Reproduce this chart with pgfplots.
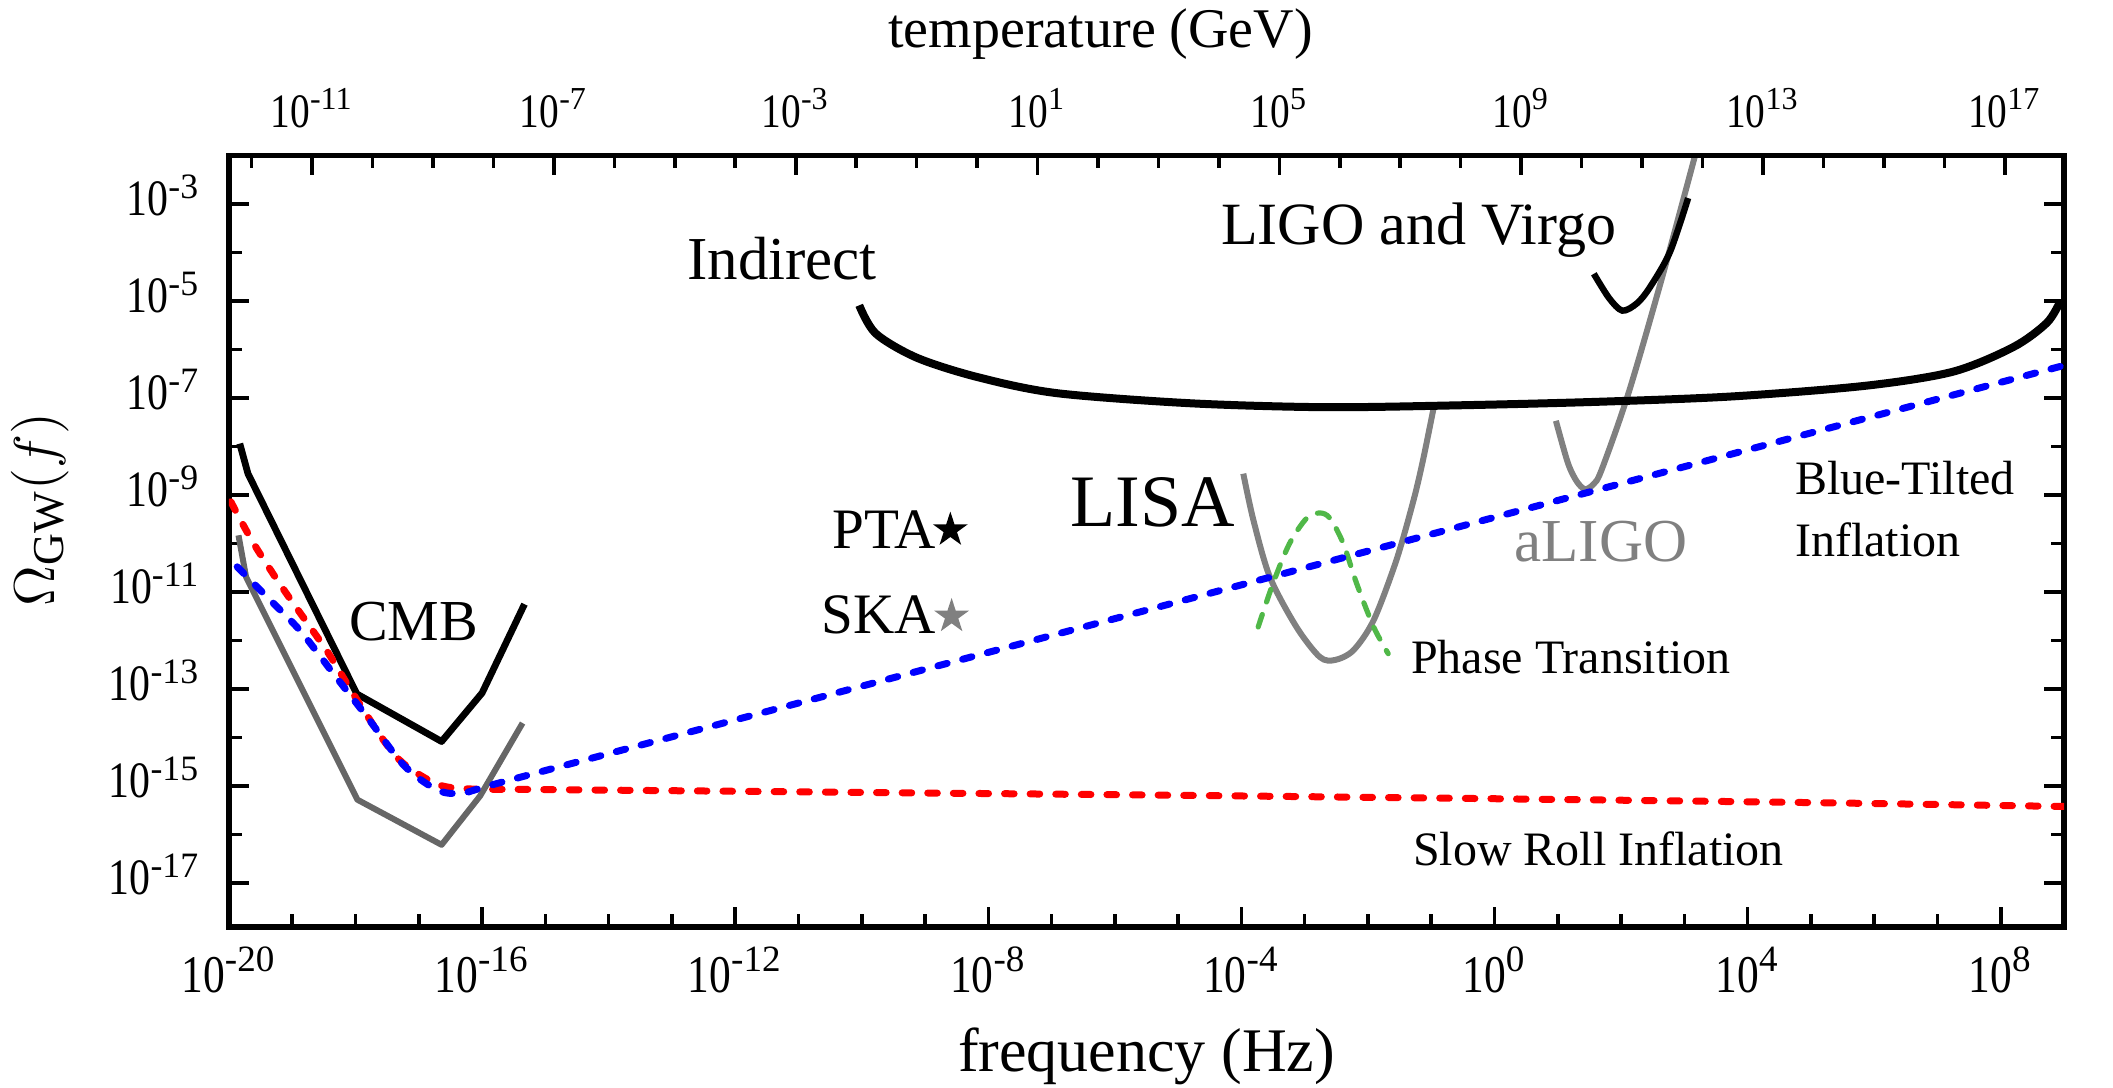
\documentclass[border=0pt]{standalone}
\usepackage{fontspec}
\setmainfont{Liberation Serif}
\newfontfamily\tickfont{Liberation Serif}[FakeStretch=0.82]
\usepackage{pgfplots}
\pgfplotsset{compat=1.18}

\definecolor{pgreen}{RGB}{80,184,72}
\definecolor{lgray}{RGB}{128,128,128}
\definecolor{dgray}{RGB}{102,102,102}

% filled five-pointed star
\pgfdeclareplotmark{fstar}{%
  \pgfpathmoveto{\pgfpointpolar{90}{\pgfplotmarksize}}%
  \pgfpathlineto{\pgfpointpolar{126}{0.382\pgfplotmarksize}}%
  \pgfpathlineto{\pgfpointpolar{162}{\pgfplotmarksize}}%
  \pgfpathlineto{\pgfpointpolar{198}{0.382\pgfplotmarksize}}%
  \pgfpathlineto{\pgfpointpolar{234}{\pgfplotmarksize}}%
  \pgfpathlineto{\pgfpointpolar{270}{0.382\pgfplotmarksize}}%
  \pgfpathlineto{\pgfpointpolar{306}{\pgfplotmarksize}}%
  \pgfpathlineto{\pgfpointpolar{342}{0.382\pgfplotmarksize}}%
  \pgfpathlineto{\pgfpointpolar{18}{\pgfplotmarksize}}%
  \pgfpathlineto{\pgfpointpolar{54}{0.382\pgfplotmarksize}}%
  \pgfpathclose
  \pgfusepathqfill}

\tikzset{lab/.style={inner sep=0pt, font=\fontsize{#1}{#1}\selectfont}}
% condensed "10", normal-width exponent
\newcommand{\tp}[1]{10\textsuperscript{\rmfamily #1}}

\begin{document}
\begin{tikzpicture}
% x and y are log10 of frequency (Hz) and of Omega_GW
\begin{axis}[
    name=main,
    scale only axis, width=458.75pt, height=192.85pt,
    xmin=-20, xmax=9, ymin=-17.9, ymax=-2,
    axis line style={line width=1.4pt},
    every tick/.style={black, line width=0.9pt},
    tick align=inside,
    major tick length=5pt, minor tick length=3.2pt,
    xtick={-20,-16,...,8},
    minor xtick={-19,-18,...,8},
    xticklabels={\tp{-20},\tp{-16},\tp{-12},\tp{-8},\tp{-4},\tp{0},\tp{4},\tp{8}},
    ytick={-17,-15,...,-3},
    minor ytick={-16,-14,...,-2},
    yticklabels={\tp{-17},\tp{-15},\tp{-13},\tp{-11},\tp{-9},\tp{-7},\tp{-5},\tp{-3}},
    xtick pos=left, ytick pos=both, yticklabel pos=left,
    xticklabel style={font={\tickfont\fontsize{13.25}{16}\selectfont}, inner sep=0pt, anchor=north, yshift=-4.9pt},
    yticklabel style={font={\tickfont\fontsize{12.75}{15}\selectfont}, inner sep=0pt, anchor=base east, xshift=-7pt, yshift=-2.9pt},
    xlabel={frequency (Hz)},
    xlabel style={font=\fontsize{15.5}{18}\selectfont, inner sep=0pt, at={(axis description cs:0.5,-0.1882)}, anchor=base},
    ylabel={$\Omega_{\mathrm{GW}}(f)$},
    ylabel style={font=\fontsize{15.75}{18}\selectfont, inner sep=0pt, at={(axis description cs:-0.103,0.541)}, anchor=center},
]
% LISA
\addplot[lgray, line width=1.5pt, smooth] coordinates {
    (-3.97,-8.56) (-3.81,-9.52) (-3.55,-10.69) (-3.13,-11.72) (-2.76,-12.34)
    (-2.52,-12.40) (-2.23,-12.20) (-1.91,-11.58) (-1.55,-10.34) (-1.28,-9.11)
    (-1.13,-8.28) (-0.96,-7.19)
};
% aLIGO
\addplot[lgray, line width=1.5pt, smooth] coordinates {
    (0.97,-7.47) (1.16,-8.34) (1.30,-8.72) (1.43,-8.88) (1.56,-8.78)
    (1.69,-8.49) (2.12,-6.89) (2.65,-4.51) (3.17,-2.0)
};
% LIGO and Virgo
\addplot[black, line width=1.6pt, smooth] coordinates {
    (1.57,-4.44) (1.81,-4.94) (2.02,-5.20) (2.25,-5.05) (2.45,-4.73)
    (2.77,-4.00) (3.06,-2.88)
};
% Indirect
\addplot[black, line width=2pt, smooth] coordinates {
    (-10.04,-5.09) (-9.78,-5.67) (-9.13,-6.17) (-8.17,-6.57) (-6.92,-6.90)
    (-4.79,-7.11) (-2.66,-7.19) (-0.53,-7.15) (1.60,-7.08) (3.73,-6.97)
    (5.85,-6.75) (7.24,-6.46) (8.20,-5.95) (8.73,-5.45) (8.94,-5.01)
};
% CMB, current and future
\addplot[black, line width=1.7pt, line join=round] coordinates {
    (-19.83,-7.94) (-19.70,-8.56) (-17.98,-13.10) (-16.64,-14.08)
    (-16.00,-13.08) (-15.33,-11.25)
};
\addplot[dgray, line width=1.5pt, line join=round] coordinates {
    (-19.85,-9.83) (-19.73,-10.69) (-17.97,-15.28) (-16.64,-16.21)
    (-16.03,-15.20) (-15.36,-13.70)
};
% phase transition
\addplot[pgreen, line width=1.3pt, line cap=round, dash pattern=on 3.3pt off 3.3pt, smooth] coordinates {
    (-3.735,-11.72) (-3.50,-10.82) (-3.24,-10.00) (-2.97,-9.48) (-2.76,-9.37)
    (-2.60,-9.48) (-2.39,-10.00) (-2.18,-10.82) (-1.91,-11.72) (-1.68,-12.27)
};
% slow roll inflation
\addplot[red, line width=1.75pt, line cap=round, dash pattern=on 2.4pt off 4pt, smooth] coordinates {
    (-19.97,-9.14) (-19.61,-10.00) (-19.13,-10.96) (-18.46,-12.20) (-18.04,-13.09)
    (-17.56,-14.05) (-17.23,-14.55) (-16.69,-14.97) (-16.16,-15.06) (-15.10,-15.07)
    (-10,-15.13) (-5,-15.19) (0,-15.26) (5,-15.34) (9,-15.42)
};
% blue-tilted inflation
\addplot[blue, line width=1.75pt, line cap=round, dash pattern=on 2.4pt off 4pt, smooth] coordinates {
    (-19.87,-10.48) (-19.40,-11.10) (-18.88,-11.79) (-18.35,-12.68) (-17.82,-13.57)
    (-17.23,-14.58) (-16.69,-15.09) (-16.27,-15.13) (-15.52,-14.86)
    (-10,-12.94) (0,-9.46) (8.94,-6.35)
};
% PTA and SKA
\addplot[only marks, mark=fstar, mark size=4.6pt, black] coordinates {(-8.60,-9.72)};
\addplot[only marks, mark=fstar, mark size=4.6pt, lgray] coordinates {(-8.58,-11.50)};

\node[lab=15.25, anchor=base] at (axis cs:-11.26,-4.55) {Indirect};
\node[lab=15, anchor=base] at (axis cs:-1.195,-3.83) {LIGO and Virgo};
\node[lab=18.5, anchor=base] at (axis cs:-5.40,-9.64) {LISA};
\node[lab=15.25, anchor=base, text=lgray] at (axis cs:1.68,-10.38) {aLIGO};
\node[lab=12, anchor=base west] at (axis cs:4.74,-8.99) {Blue-Tilted};
\node[lab=12, anchor=base west] at (axis cs:4.74,-10.26) {Inflation};
\node[lab=12, anchor=base west] at (axis cs:-1.33,-12.67) {Phase Transition};
\node[lab=12, anchor=base west] at (axis cs:-1.30,-16.63) {Slow Roll Inflation};
\node[lab=14.5, anchor=base] at (axis cs:-17.08,-11.99) {CMB};
\node[lab=14.3, anchor=base east] at (axis cs:-8.81,-10.11) {PTA};
\node[lab=14.3, anchor=base east] at (axis cs:-8.81,-11.85) {SKA};
\end{axis}

% temperature scale along the top
\begin{axis}[
    scale only axis, width=458.75pt, height=192.85pt,
    xmin=-12.375, xmax=17.98, ymin=0, ymax=1,
    axis x line*=top, hide y axis,
    axis line style={line width=1.4pt},
    every tick/.style={black, line width=0.9pt},
    tick align=inside,
    major tick length=5pt, minor tick length=3.2pt,
    xtick pos=right, xticklabel pos=right,
    xtick={-11,-7,...,17},
    minor xtick={-12,-11,...,17},
    xticklabels={\tp{-11},\tp{-7},\tp{-3},\tp{1},\tp{5},\tp{9},\tp{13},\tp{17}},
    xticklabel style={font={\tickfont\fontsize{12}{14}\selectfont}, inner sep=0pt, anchor=south, yshift=6.75pt},
    xlabel={temperature (GeV)},
    xlabel style={font=\fontsize{14}{17}\selectfont, inner sep=0pt, at={(axis description cs:0.475,1.14)}, anchor=base},
]
\end{axis}

\pgfresetboundingbox
\path[use as bounding box] ([shift={(-57.25pt,-40.05pt)}]main.south west)
    rectangle ([shift={(12.25pt,38.85pt)}]main.north east);
\end{tikzpicture}
\end{document}
